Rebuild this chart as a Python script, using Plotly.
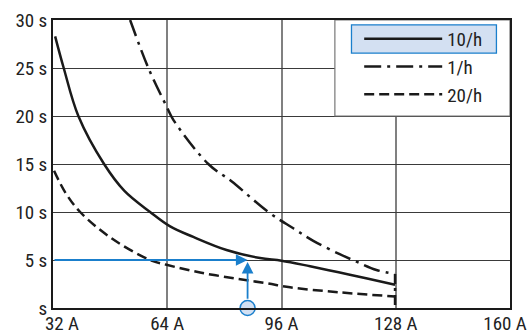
import plotly.graph_objects as go

# ---- data ----
x_10h = [32.6, 35.0, 39.1, 46.3, 52.0, 59.2, 64.8, 71.3, 80.6, 90.0, 96.0, 104.0, 112.0, 120.0, 127.8]
y_10h = [28.3, 25.0, 20.0, 15.0, 12.2, 10.0, 8.5, 7.4, 6.04, 5.2, 4.93, 4.35, 3.72, 3.08, 2.42]

x_1h = [53.6, 58.7, 63.8, 65.7, 75.5, 82.0, 92.3, 99.3, 104.9, 112.3, 117.0, 122.6, 127.8]
y_1h = [30.0, 25.0, 21.0, 19.6, 15.0, 13.2, 10.0, 8.3, 7.0, 5.6, 4.83, 3.96, 3.54]

# vertical cut-off of the curves at 128 A
x_cut = [127.8, 127.8]
y_cut = [3.54, 0.0]

x_20h = [32.3, 35.5, 39.6, 48.4, 59.2, 63.8, 73.2, 83.4, 91.9, 98.4, 112.3, 127.8]
y_20h = [14.3, 12.0, 10.0, 7.26, 5.0, 4.5, 3.7, 3.05, 2.57, 2.15, 1.63, 1.2]

x_ticks_mid = [64, 96, 128]
x_ticktext_mid = ["64 A", "96 A", "128 A"]
x_tick_first, x_ticktext_first = 32, "32 A"
x_tick_last, x_ticktext_last = 160, "160 A"
y_ticks = [0, 5, 10, 15, 20, 25, 30]
y_ticktext = ["s", "5 s", "10 s", "15 s", "20 s", "25 s", "30 s"]

series_names = ["10/h", "1/h", "20/h"]

# operating point example
op_current = 86.5
op_time = 5.0

FONT = "Liberation Sans Narrow, Roboto Condensed, DejaVu Sans Condensed, Arial Narrow, Roboto, sans-serif"
BLUE = "#1a7fcc"
LIGHTBLUE = "#d3e0f2"
INK = "#1a1a1a"

fig = go.Figure()
fig.add_trace(go.Scatter(x=x_10h, y=y_10h, mode="lines", name=series_names[0], legendgroup="a",
                         line=dict(color=INK, width=2.5, shape="spline", smoothing=1.0)))
fig.add_trace(go.Scatter(x=x_1h, y=y_1h, mode="lines", name=series_names[1], legendgroup="b",
                         line=dict(color=INK, width=2.5, dash="17px,6px,3px,6px",
                                   shape="spline", smoothing=1.0)))
fig.add_trace(go.Scatter(x=x_cut, y=y_cut, mode="lines", showlegend=False, legendgroup="b",
                         line=dict(color=INK, width=2.5, dash="10px,4px,3px,4px")))
fig.add_trace(go.Scatter(x=x_20h, y=y_20h, mode="lines", name=series_names[2], legendgroup="c",
                         line=dict(color=INK, width=2.5, dash="10px,5px", shape="spline", smoothing=1.0)))

# marker circle at the operating current
fig.add_trace(go.Scatter(x=[op_current], y=[0], mode="markers", showlegend=False, cliponaxis=False,
                         xaxis="x2",
                         marker=dict(size=15, color=LIGHTBLUE, line=dict(color=BLUE, width=1.5))))
# empty traces to register the label-carrying overlay axes
fig.add_trace(go.Scatter(x=[], y=[], mode="markers", showlegend=False, xaxis="x3"))
fig.add_trace(go.Scatter(x=[], y=[], mode="markers", showlegend=False, xaxis="x4"))

# arrows
fig.add_annotation(x=op_current, y=op_time, ax=32, ay=op_time, xref="x", yref="y", axref="x", ayref="y",
                   text="", showarrow=True, arrowhead=2, arrowsize=1.3, arrowwidth=1.8, arrowcolor=BLUE,
                   standoff=0, startstandoff=0)
fig.add_annotation(x=op_current, y=4.8, ax=op_current, ay=0.8, xref="x", yref="y", axref="x", ayref="y",
                   text="", showarrow=True, arrowhead=2, arrowsize=1.3, arrowwidth=1.8, arrowcolor=BLUE,
                   standoff=0, startstandoff=0)

# legend background box and highlighted entry
fig.add_shape(type="rect", xref="x", yref="y", x0=110.95, x1=160, y0=20, y1=30,
              fillcolor="white", line=dict(color="#777", width=1.2), layer="between")
fig.add_shape(type="rect", xref="x", yref="y", x0=115.6, x1=156.2, y0=26.55, y1=29.5,
              fillcolor=LIGHTBLUE, line=dict(color=BLUE, width=1.3), layer="between")

label_axis = dict(range=[32, 160], matches="x", overlaying="x", anchor="y", side="bottom",
                  showgrid=False, showline=False, ticks="", zeroline=False, automargin=False,
                  ticklabeloverflow="allow", ticklabelstandoff=2)

fig.update_layout(
    width=528, height=333,
    margin=dict(l=53, r=18, t=20, b=25, autoexpand=False),
    paper_bgcolor="white", plot_bgcolor="white",
    font=dict(family=FONT, size=19, color="#222"),
    showlegend=True,
    legend=dict(x=0.670, y=1.0, xanchor="left", yanchor="top", bgcolor="rgba(0,0,0,0)",
                borderwidth=0, itemwidth=78, tracegroupgap=11, font=dict(size=19, color="#222"),
                traceorder="normal"),
    xaxis=dict(range=[32, 160], tickvals=x_ticks_mid, showticklabels=False, showgrid=True,
               gridcolor="#808080", gridwidth=1.5, showline=True, mirror=True, linecolor=INK,
               linewidth=2, ticks="", zeroline=False, automargin=False),
    xaxis2=dict(label_axis, tickvals=[x_tick_first], ticktext=[x_ticktext_first], ticklabelshift=9),
    xaxis3=dict(label_axis, tickvals=[x_tick_last], ticktext=[x_ticktext_last], ticklabelshift=-5),
    xaxis4=dict(label_axis, tickvals=x_ticks_mid, ticktext=x_ticktext_mid),
    yaxis=dict(range=[0, 30], tickvals=y_ticks, ticktext=y_ticktext, showgrid=True,
               gridcolor="#3a3a3a", gridwidth=1, showline=True, mirror=True, linecolor=INK,
               linewidth=2, ticks="", zeroline=False, automargin=False),
)

fig.write_html("out.html", config={"displayModeBar": False},
               post_script="document.body.style.margin='0';")
